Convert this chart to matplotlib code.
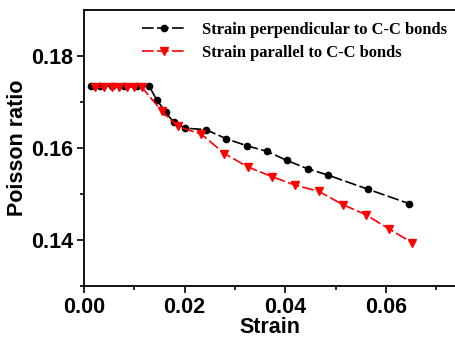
import numpy as np
import matplotlib.pyplot as plt

# strain vs poisson ratio, two loading directions
perp_strain = [0.0013, 0.0032, 0.0055, 0.0080, 0.0105, 0.0129, 0.0145, 0.0162,
               0.0178, 0.0201, 0.0242, 0.0283, 0.0323, 0.0363, 0.0403, 0.0444,
               0.0485, 0.0565, 0.0646]
perp_ratio = [0.1735, 0.1735, 0.1735, 0.1735, 0.1735, 0.1735, 0.1704, 0.1678,
              0.1656, 0.1643, 0.1640, 0.1620, 0.1605, 0.1593, 0.1573, 0.1555,
              0.1541, 0.1510, 0.1479]

par_strain = [0.0022, 0.0040, 0.0055, 0.0069, 0.0085, 0.0100, 0.0115, 0.0154,
              0.0186, 0.0233, 0.0279, 0.0325, 0.0373, 0.0420, 0.0466, 0.0514,
              0.0560, 0.0606, 0.0652]
par_ratio = [0.1732, 0.1732, 0.1732, 0.1732, 0.1732, 0.1732, 0.1732, 0.1681,
             0.1647, 0.1630, 0.1588, 0.1559, 0.1538, 0.1519, 0.1506, 0.1477,
             0.1455, 0.1424, 0.1394]

labels = ['Strain perpendicular to C-C bonds', 'Strain parallel to C-C bonds']

fig = plt.figure(figsize=(4.56, 3.41), dpi=100)
ax = fig.add_axes([84/456, 55/341, 1 - 84/456, 276/341])

ax.plot(perp_strain, perp_ratio, color='black', ls=(0, (7, 2)), lw=1.2,
        marker='o', ms=4.5, label=labels[0])
ax.plot(par_strain, par_ratio, color='red', ls=(0, (7, 2)), lw=1.2,
        marker='v', ms=5.5, label=labels[1])

ax.set_xlim(0, 0.0739)
ax.set_ylim(0.13, 0.19)
ax.set_xticks([0.00, 0.02, 0.04, 0.06])
ax.set_xticks(np.arange(0.01, 0.075, 0.02), minor=True)
ax.set_yticks([0.14, 0.16, 0.18])
ax.set_yticks([0.13, 0.15, 0.17], minor=True)
ax.set_yticklabels(['0.14', '0.16', '0.18'])
ax.set_xticklabels(['0.00', '0.02', '0.04', '0.06'])

ax.spines['right'].set_visible(False)
for s in ['left', 'bottom', 'top']:
    ax.spines[s].set_linewidth(1.3)
ax.tick_params(which='both', direction='out', width=1.2, top=False, right=False)
ax.tick_params(which='major', length=5, labelsize=15.5, pad=3)
ax.tick_params(which='minor', length=3)
for t in ax.get_xticklabels() + ax.get_yticklabels():
    t.set_fontweight('bold')
    t.set_family('Liberation Sans')

ax.set_xlabel('Strain', fontsize=15.5, fontweight='bold', family='Liberation Sans', labelpad=-1)
ax.set_ylabel('Poisson ratio', fontsize=15.5, fontweight='bold', family='Liberation Sans', labelpad=2)

leg = ax.legend(loc='upper left', bbox_to_anchor=(0.117, 1.012), frameon=False,
                prop={'family': 'Liberation Serif', 'weight': 'bold', 'size': 11.9},
                handlelength=2.6, handletextpad=1.0, labelspacing=0.45)

fig.savefig('out.png', dpi=100)
